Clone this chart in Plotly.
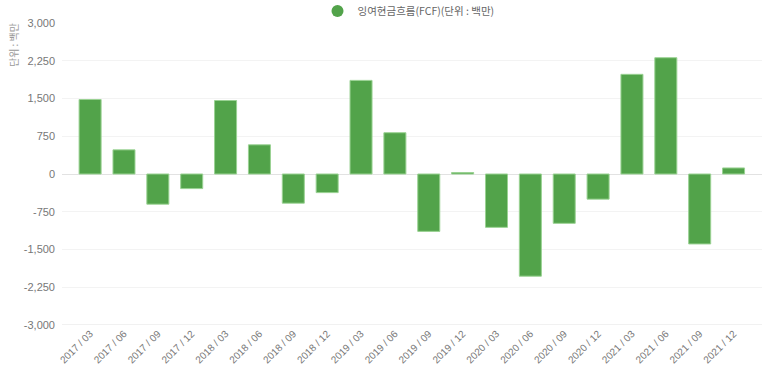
import plotly.graph_objects as go

categories = ["2017 / 03", "2017 / 06", "2017 / 09", "2017 / 12",
              "2018 / 03", "2018 / 06", "2018 / 09", "2018 / 12",
              "2019 / 03", "2019 / 06", "2019 / 09", "2019 / 12",
              "2020 / 03", "2020 / 06", "2020 / 09", "2020 / 12",
              "2021 / 03", "2021 / 06", "2021 / 09", "2021 / 12"]
fcf = [1480, 480, -600, -290,
       1460, 580, -580, -370,
       1860, 820, -1140, 30,
       -1060, -2030, -980, -500,
       1980, 2310, -1390, 120]
series_name = "잉여현금흐름(FCF)(단위 : 백만)"
y_ticks = [-3000, -2250, -1500, -750, 0, 750, 1500, 2250, 3000]
y_tick_text = [f"{v:,}" for v in y_ticks]
y_title = "단위 : 백만"

FONT = "Liberation Sans, Noto Sans CJK KR, sans-serif"
KFONT = "Noto Sans CJK KR, sans-serif"
GREEN = "#52a34a"

fig = go.Figure()
fig.add_trace(go.Bar(
    x=categories, y=fcf, width=0.65,
    marker=dict(color=GREEN, line=dict(color="#9ad293", width=1)),
    showlegend=False, name=series_name,
))
fig.add_trace(go.Scatter(
    x=[None], y=[None], mode="markers", name=series_name,
    marker=dict(color=GREEN, size=13, symbol="circle"),
    showlegend=True,
))

fig.update_layout(
    width=773, height=377,
    margin=dict(l=62, r=11, t=23, b=52, autoexpand=False),
    paper_bgcolor="white", plot_bgcolor="white",
    font=dict(family=FONT, size=11, color="#666"),
    legend=dict(orientation="h", x=0.495, xanchor="center", y=1.04, yanchor="middle",
                font=dict(family=KFONT, size=10.5, color="#666"), itemsizing="constant",
                bgcolor="rgba(0,0,0,0)", itemwidth=30),
    xaxis=dict(
        type="category", range=[-0.83, 19.84],
        tickangle=-45, tickfont=dict(size=10, color="#777"),
        showgrid=False, showline=False, ticks="",
    ),
    yaxis=dict(
        range=[-3000, 3000], tickvals=y_ticks, ticktext=y_tick_text,
        tickfont=dict(size=11, color="#777"),
        showgrid=True, gridcolor="#f3f3f3", gridwidth=1,
        zeroline=True, zerolinecolor="#e2e2e2", zerolinewidth=1,
        showline=False, ticks="", ticklabelstandoff=6,
    ),
    shapes=[dict(type="line", xref="paper", yref="y", x0=0, x1=1, y0=-3000, y1=-3000,
                 line=dict(color="#e2e2e2", width=1))],
    annotations=[dict(text=y_title, xref="paper", yref="paper", x=-0.07, y=0.927,
                      textangle=-90, showarrow=False, xanchor="center", yanchor="middle",
                      font=dict(family=KFONT, size=10, color="#999"))],
)

fig.write_html("out.html", config={"displayModeBar": False},
               post_script="document.body.style.margin='0';document.body.style.overflow='hidden';")
